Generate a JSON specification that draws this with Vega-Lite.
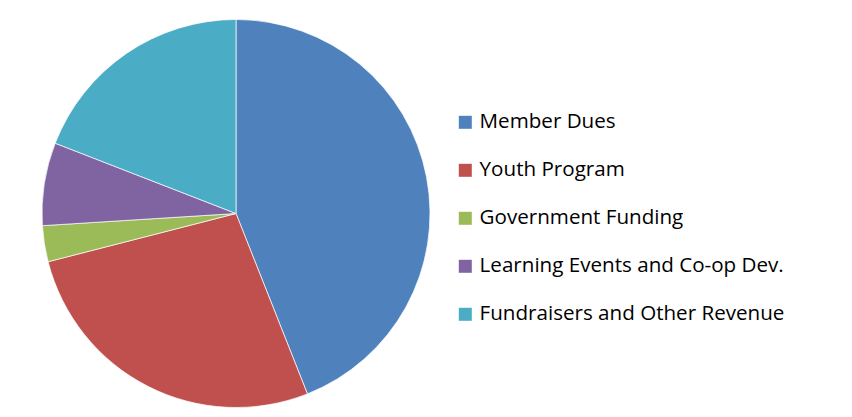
{
  "$schema": "https://vega.github.io/schema/vega-lite/v6.json",
  "width": 472,
  "height": 387,
  "autosize": {"type": "none"},
  "padding": {"left": 0, "top": 20, "right": 380, "bottom": 10},
  "background": "white",
  "config": {"view": {"stroke": null}, "font": "Open Sans"},
  "data": {
    "values": [
      {"source": "Member Dues", "share": 44.0, "idx": 1},
      {"source": "Youth Program", "share": 27.0, "idx": 2},
      {"source": "Government Funding", "share": 3.0, "idx": 3},
      {"source": "Learning Events and Co-op Dev.", "share": 6.9, "idx": 4},
      {"source": "Fundraisers and Other Revenue", "share": 19.1, "idx": 5}
    ]
  },
  "mark": {"type": "arc", "radius": 194, "stroke": "white", "strokeWidth": 0.7},
  "encoding": {
    "theta": {"field": "share", "type": "quantitative", "stack": true},
    "order": {"field": "idx", "type": "quantitative", "sort": "ascending"},
    "color": {
      "field": "source",
      "type": "nominal",
      "scale": {
        "domain": ["Member Dues", "Youth Program", "Government Funding", "Learning Events and Co-op Dev.", "Fundraisers and Other Revenue"],
        "range": ["#4F81BD", "#C0504D", "#9BBB59", "#8064A2", "#4BACC6"]
      },
      "legend": {
        "title": null,
        "orient": "none",
        "legendX": 455,
        "legendY": 92,
        "symbolType": "square",
        "symbolSize": 169,
        "symbolStrokeWidth": 0,
        "symbolOpacity": 1,
        "labelFontSize": 20.6,
        "labelColor": "#000000",
        "labelFont": "Open Sans",
        "labelOffset": 4,
        "rowPadding": 27,
        "labelLimit": 400
      }
    }
  }
}
